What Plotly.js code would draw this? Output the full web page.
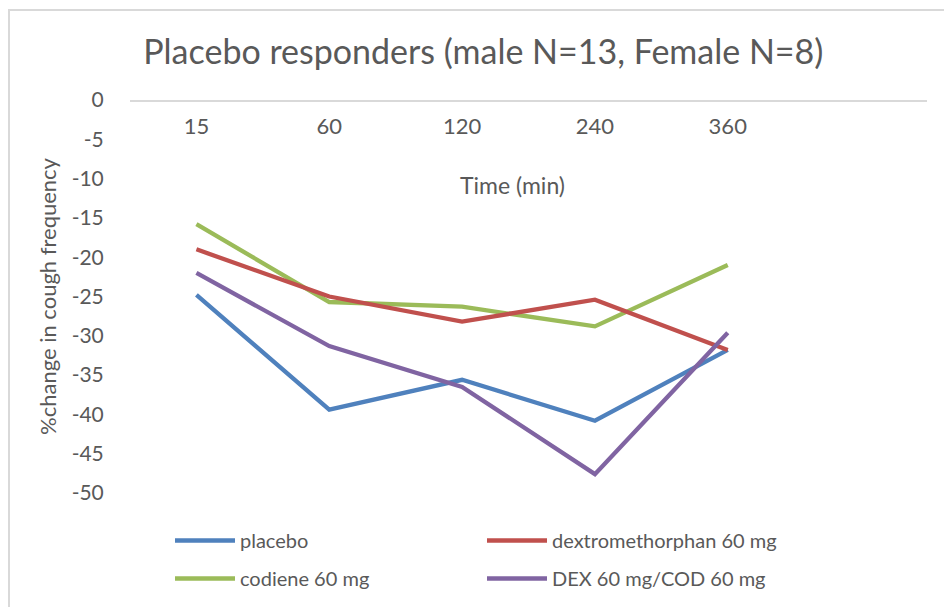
<!DOCTYPE html>
<html>
<head>
<meta charset="utf-8">
<script src="https://cdn.plot.ly/plotly-3.0.1.min.js"></script>
<style>
  html, body { margin: 0; padding: 0; background: #ffffff; }
  #wrap { position: relative; width: 944px; height: 607px; overflow: hidden; }
  #chart { width: 944px; height: 607px; }
  #frame { position: absolute; left: 8px; top: 9px; width: 1000px; height: 700px;
           border-left: 2px solid #d9d9d9; border-top: 2px solid #d9d9d9; pointer-events: none; }
</style>
</head>
<body>
<div id="wrap">
  <div id="chart"></div>
  <div id="frame"></div>
</div>
<script>
// Time points (minutes) shown as categories
const timeLabels = ['15', '60', '120', '240', '360'];

// % change in cough frequency for each treatment
const placebo = [-24.8, -39.4, -35.6, -40.8, -31.8];
const dextromethorphan = [-19.0, -25.0, -28.2, -25.4, -31.8];
const codiene = [-15.8, -25.7, -26.3, -28.8, -21.0];
const dexCod = [-22.0, -31.3, -36.5, -47.6, -29.6];

// Y axis ticks (Excel-style hyphen minus)
const yTickVals = [0, -5, -10, -15, -20, -25, -30, -35, -40, -45, -50];
const yTickText = ['0', '-5', '-10', '-15', '-20', '-25', '-30', '-35', '-40', '-45', '-50'];

const FONT = 'Lato, "Open Sans", sans-serif';
const GREY = '#595959';
const xIdx = timeLabels.map((_, i) => i);

function series(name, y, color, legendId) {
  return {
    type: 'scatter', mode: 'lines', name: name,
    x: xIdx, y: y,
    line: { color: color, width: 4.3 },
    legend: legendId, legendgroup: name,
    hoverinfo: 'name+y'
  };
}

const traces = [
  series('placebo', placebo, '#4F81BD', 'legend'),
  series('codiene 60 mg', codiene, '#9BBB59', 'legend'),
  series('dextromethorphan 60 mg', dextromethorphan, '#C0504D', 'legend2'),
  series('DEX 60 mg/COD 60 mg', dexCod, '#8064A2', 'legend2')
];

// plot area in pixels: left 130, right 927, top 100, bottom 493
const PL = 130, PW = 797, PT = 100, PH = 393;

const legendCommon = {
  orientation: 'v', yanchor: 'top', xanchor: 'left',
  font: { family: FONT, size: 20, color: GREY },
  bgcolor: 'rgba(0,0,0,0)', tracegroupgap: 9, itemwidth: 60
};

const layout = {
  width: 944, height: 607,
  margin: { l: PL, r: 944 - PL - PW, t: PT, b: 607 - PT - PH, autoexpand: false },
  paper_bgcolor: '#ffffff', plot_bgcolor: '#ffffff',
  font: { family: FONT, color: GREY },
  title: {
    text: 'Placebo responders (male N=13, Female N=8)',
    font: { family: FONT, size: 34, color: GREY },
    xref: 'container', x: 0.512, xanchor: 'center',
    yref: 'container', y: 1 - 52 / 607, yanchor: 'middle'
  },
  // category axis sits on the zero line at the top, labels hang below it
  xaxis: {
    range: [-0.5, 5.5],
    anchor: 'free', position: 1, side: 'bottom',
    tickmode: 'array', tickvals: xIdx, ticktext: timeLabels,
    ticks: 'outside', ticklen: 6, tickcolor: 'rgba(0,0,0,0)',
    showgrid: false, zeroline: false,
    showline: true, linecolor: '#d9d9d9', linewidth: 1.5,
    tickfont: { family: FONT, size: 22, color: GREY },
    fixedrange: true
  },
  yaxis: {
    range: [-50, 0],
    tickmode: 'array', tickvals: yTickVals, ticktext: yTickText,
    ticks: 'outside', ticklen: 21, tickcolor: 'rgba(0,0,0,0)',
    showgrid: false, zeroline: false, showline: false,
    tickfont: { family: FONT, size: 21, color: GREY },
    title: { text: '%change in cough frequency', standoff: 8,
             font: { family: FONT, size: 22, color: GREY } },
    fixedrange: true
  },
  annotations: [{
    text: 'Time (min)', showarrow: false,
    xref: 'paper', x: (512 - PL) / PW, xanchor: 'center',
    yref: 'paper', y: (PT + PH - 185) / PH, yanchor: 'middle',
    font: { family: FONT, size: 23, color: GREY }
  }],
  legend: Object.assign({}, legendCommon, { x: (170 - PL) / PW, y: (PT + PH - 521) / PH }),
  legend2: Object.assign({}, legendCommon, { x: (482 - PL) / PW, y: (PT + PH - 521) / PH }),
  showlegend: true
};

Plotly.newPlot('chart', traces, layout, { displayModeBar: false, staticPlot: true });
</script>
</body>
</html>
